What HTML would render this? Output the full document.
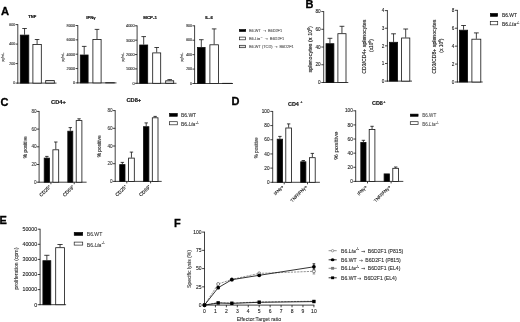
<!DOCTYPE html>
<html><head><meta charset="utf-8"><title>Figure</title>
<style>
html,body{margin:0;padding:0;background:#fff;}
body{width:520px;height:322px;overflow:hidden;}
svg{display:block;font-family:"Liberation Sans", sans-serif;}
</style></head><body>
<svg width="520" height="322" viewBox="0 0 520 322">
<defs><pattern id="hatch" width="1.3" height="1.3" patternUnits="userSpaceOnUse" patternTransform="rotate(45)"><rect width="1.3" height="1.3" fill="#fff"/><line x1="0" y1="0.65" x2="1.3" y2="0.65" stroke="#777" stroke-width="0.3"/></pattern></defs>
<rect width="520" height="322" fill="#fff"/>
<text x="0.90" y="15.20" font-size="11.2" text-anchor="start" font-weight="bold" fill="#000" stroke="#000" stroke-width="0.3">A</text>
<text x="305.40" y="8.10" font-size="11" text-anchor="start" font-weight="bold" fill="#000" stroke="#000" stroke-width="0.3">B</text>
<text x="0.50" y="105.70" font-size="11" text-anchor="start" font-weight="bold" fill="#000" stroke="#000" stroke-width="0.3">C</text>
<text x="231.60" y="105.40" font-size="11" text-anchor="start" font-weight="bold" fill="#000" stroke="#000" stroke-width="0.3">D</text>
<text x="-0.60" y="224.30" font-size="11" text-anchor="start" font-weight="bold" fill="#000" stroke="#000" stroke-width="0.3">E</text>
<text x="173.90" y="226.70" font-size="11" text-anchor="start" font-weight="bold" fill="#000" stroke="#000" stroke-width="0.3">F</text>
<line x1="17.80" y1="24.20" x2="17.80" y2="83.50" stroke="#111" stroke-width="0.8" />
<line x1="15.60" y1="24.60" x2="17.80" y2="24.60" stroke="#111" stroke-width="0.8" />
<text x="15.20" y="25.86" font-size="3.5" text-anchor="end" font-weight="normal" fill="#333" stroke="#333" stroke-width="0.12">600</text>
<line x1="15.60" y1="44.10" x2="17.80" y2="44.10" stroke="#111" stroke-width="0.8" />
<text x="15.20" y="45.36" font-size="3.5" text-anchor="end" font-weight="normal" fill="#333" stroke="#333" stroke-width="0.12">400</text>
<line x1="15.60" y1="63.60" x2="17.80" y2="63.60" stroke="#111" stroke-width="0.8" />
<text x="15.20" y="64.86" font-size="3.5" text-anchor="end" font-weight="normal" fill="#333" stroke="#333" stroke-width="0.12">200</text>
<line x1="15.60" y1="83.10" x2="17.80" y2="83.10" stroke="#111" stroke-width="0.8" />
<text x="15.20" y="84.36" font-size="3.5" text-anchor="end" font-weight="normal" fill="#333" stroke="#333" stroke-width="0.12">0</text>
<line x1="17.40" y1="83.10" x2="56.50" y2="83.10" stroke="#111" stroke-width="0.8" />
<line x1="24.55" y1="28.50" x2="24.55" y2="34.70" stroke="#111" stroke-width="0.8" />
<line x1="22.25" y1="28.50" x2="26.85" y2="28.50" stroke="#111" stroke-width="0.8" />
<rect x="20.30" y="35.10" width="8.50" height="48.00" fill="#000" stroke="#111" stroke-width="0.8" />
<line x1="37.10" y1="39.50" x2="37.10" y2="44.00" stroke="#111" stroke-width="0.8" />
<line x1="34.80" y1="39.50" x2="39.40" y2="39.50" stroke="#111" stroke-width="0.8" />
<rect x="32.90" y="44.40" width="8.40" height="38.70" fill="#fff" stroke="#111" stroke-width="0.8" />
<rect x="45.70" y="80.60" width="8.60" height="2.50" fill="url(#hatch)" stroke="#111" stroke-width="0.8" />
<text x="32.20" y="17.90" font-size="4.1" text-anchor="middle" font-weight="bold" fill="#111" stroke="#111" stroke-width="0.2">TNF</text>
<text x="4.10" y="57.20" font-size="3.2" text-anchor="middle" font-weight="normal" fill="#333" transform="rotate(-90 4.10 57.20)" stroke="#333" stroke-width="0.12">pg/mL</text>
<line x1="77.80" y1="25.10" x2="77.80" y2="83.30" stroke="#111" stroke-width="0.8" />
<line x1="75.60" y1="25.50" x2="77.80" y2="25.50" stroke="#111" stroke-width="0.8" />
<text x="75.20" y="26.90" font-size="3.9" text-anchor="end" font-weight="normal" fill="#333" stroke="#333" stroke-width="0.12">8000</text>
<line x1="75.60" y1="39.85" x2="77.80" y2="39.85" stroke="#111" stroke-width="0.8" />
<text x="75.20" y="41.25" font-size="3.9" text-anchor="end" font-weight="normal" fill="#333" stroke="#333" stroke-width="0.12">6000</text>
<line x1="75.60" y1="54.20" x2="77.80" y2="54.20" stroke="#111" stroke-width="0.8" />
<text x="75.20" y="55.60" font-size="3.9" text-anchor="end" font-weight="normal" fill="#333" stroke="#333" stroke-width="0.12">4000</text>
<line x1="75.60" y1="68.55" x2="77.80" y2="68.55" stroke="#111" stroke-width="0.8" />
<text x="75.20" y="69.95" font-size="3.9" text-anchor="end" font-weight="normal" fill="#333" stroke="#333" stroke-width="0.12">2000</text>
<line x1="75.60" y1="82.90" x2="77.80" y2="82.90" stroke="#111" stroke-width="0.8" />
<text x="75.20" y="84.30" font-size="3.9" text-anchor="end" font-weight="normal" fill="#333" stroke="#333" stroke-width="0.12">0</text>
<line x1="77.40" y1="82.90" x2="116.50" y2="82.90" stroke="#111" stroke-width="0.8" />
<line x1="84.20" y1="46.40" x2="84.20" y2="54.60" stroke="#111" stroke-width="0.8" />
<line x1="81.90" y1="46.40" x2="86.50" y2="46.40" stroke="#111" stroke-width="0.8" />
<rect x="80.30" y="55.00" width="7.80" height="27.90" fill="#000" stroke="#111" stroke-width="0.8" />
<line x1="97.00" y1="29.40" x2="97.00" y2="39.10" stroke="#111" stroke-width="0.8" />
<line x1="94.70" y1="29.40" x2="99.30" y2="29.40" stroke="#111" stroke-width="0.8" />
<rect x="92.90" y="39.50" width="8.20" height="43.40" fill="#fff" stroke="#111" stroke-width="0.8" />
<rect x="105.70" y="82.70" width="8.60" height="0.20" fill="url(#hatch)" stroke="#111" stroke-width="0.8" />
<text x="91.00" y="18.80" font-size="4.3" text-anchor="middle" font-weight="bold" fill="#111" stroke="#111" stroke-width="0.2">IFNγ</text>
<text x="64.00" y="57.20" font-size="3.2" text-anchor="middle" font-weight="normal" fill="#333" transform="rotate(-90 64.00 57.20)" stroke="#333" stroke-width="0.12">pg/mL</text>
<line x1="137.10" y1="25.40" x2="137.10" y2="83.70" stroke="#111" stroke-width="0.8" />
<line x1="134.90" y1="25.80" x2="137.10" y2="25.80" stroke="#111" stroke-width="0.8" />
<text x="134.50" y="27.17" font-size="3.8" text-anchor="end" font-weight="normal" fill="#333" stroke="#333" stroke-width="0.12">4000</text>
<line x1="134.90" y1="40.17" x2="137.10" y2="40.17" stroke="#111" stroke-width="0.8" />
<text x="134.50" y="41.54" font-size="3.8" text-anchor="end" font-weight="normal" fill="#333" stroke="#333" stroke-width="0.12">3000</text>
<line x1="134.90" y1="54.55" x2="137.10" y2="54.55" stroke="#111" stroke-width="0.8" />
<text x="134.50" y="55.92" font-size="3.8" text-anchor="end" font-weight="normal" fill="#333" stroke="#333" stroke-width="0.12">2000</text>
<line x1="134.90" y1="68.92" x2="137.10" y2="68.92" stroke="#111" stroke-width="0.8" />
<text x="134.50" y="70.29" font-size="3.8" text-anchor="end" font-weight="normal" fill="#333" stroke="#333" stroke-width="0.12">1000</text>
<line x1="134.90" y1="83.30" x2="137.10" y2="83.30" stroke="#111" stroke-width="0.8" />
<text x="134.50" y="84.67" font-size="3.8" text-anchor="end" font-weight="normal" fill="#333" stroke="#333" stroke-width="0.12">0</text>
<line x1="136.70" y1="83.30" x2="176.50" y2="83.30" stroke="#111" stroke-width="0.8" />
<line x1="143.70" y1="36.60" x2="143.70" y2="44.60" stroke="#111" stroke-width="0.8" />
<line x1="141.40" y1="36.60" x2="146.00" y2="36.60" stroke="#111" stroke-width="0.8" />
<rect x="139.70" y="45.00" width="8.00" height="38.30" fill="#000" stroke="#111" stroke-width="0.8" />
<line x1="156.70" y1="47.50" x2="156.70" y2="52.50" stroke="#111" stroke-width="0.8" />
<line x1="154.40" y1="47.50" x2="159.00" y2="47.50" stroke="#111" stroke-width="0.8" />
<rect x="152.70" y="52.90" width="8.00" height="30.40" fill="#fff" stroke="#111" stroke-width="0.8" />
<line x1="169.70" y1="79.60" x2="169.70" y2="80.40" stroke="#111" stroke-width="0.8" />
<line x1="167.40" y1="79.60" x2="172.00" y2="79.60" stroke="#111" stroke-width="0.8" />
<rect x="165.70" y="80.80" width="8.00" height="2.50" fill="url(#hatch)" stroke="#111" stroke-width="0.8" />
<text x="150.10" y="18.80" font-size="4.4" text-anchor="middle" font-weight="bold" fill="#111" stroke="#111" stroke-width="0.2">MCP-1</text>
<text x="124.00" y="57.20" font-size="3.2" text-anchor="middle" font-weight="normal" fill="#333" transform="rotate(-90 124.00 57.20)" stroke="#333" stroke-width="0.12">pg/mL</text>
<line x1="194.60" y1="25.40" x2="194.60" y2="83.90" stroke="#111" stroke-width="0.8" />
<line x1="192.40" y1="25.80" x2="194.60" y2="25.80" stroke="#111" stroke-width="0.8" />
<text x="192.00" y="27.06" font-size="3.5" text-anchor="end" font-weight="normal" fill="#333" stroke="#333" stroke-width="0.12">800</text>
<line x1="192.40" y1="40.23" x2="194.60" y2="40.23" stroke="#111" stroke-width="0.8" />
<text x="192.00" y="41.48" font-size="3.5" text-anchor="end" font-weight="normal" fill="#333" stroke="#333" stroke-width="0.12">600</text>
<line x1="192.40" y1="54.65" x2="194.60" y2="54.65" stroke="#111" stroke-width="0.8" />
<text x="192.00" y="55.91" font-size="3.5" text-anchor="end" font-weight="normal" fill="#333" stroke="#333" stroke-width="0.12">400</text>
<line x1="192.40" y1="69.08" x2="194.60" y2="69.08" stroke="#111" stroke-width="0.8" />
<text x="192.00" y="70.34" font-size="3.5" text-anchor="end" font-weight="normal" fill="#333" stroke="#333" stroke-width="0.12">200</text>
<line x1="192.40" y1="83.50" x2="194.60" y2="83.50" stroke="#111" stroke-width="0.8" />
<text x="192.00" y="84.76" font-size="3.5" text-anchor="end" font-weight="normal" fill="#333" stroke="#333" stroke-width="0.12">0</text>
<line x1="194.20" y1="83.50" x2="233.00" y2="83.50" stroke="#111" stroke-width="0.8" />
<line x1="201.30" y1="39.70" x2="201.30" y2="47.10" stroke="#111" stroke-width="0.8" />
<line x1="199.00" y1="39.70" x2="203.60" y2="39.70" stroke="#111" stroke-width="0.8" />
<rect x="197.50" y="47.50" width="7.60" height="36.00" fill="#000" stroke="#111" stroke-width="0.8" />
<line x1="214.15" y1="28.90" x2="214.15" y2="44.40" stroke="#111" stroke-width="0.8" />
<line x1="211.85" y1="28.90" x2="216.45" y2="28.90" stroke="#111" stroke-width="0.8" />
<rect x="209.90" y="44.80" width="8.50" height="38.70" fill="#fff" stroke="#111" stroke-width="0.8" />
<rect x="222.60" y="83.30" width="9.10" height="0.20" fill="url(#hatch)" stroke="#111" stroke-width="0.8" />
<text x="209.00" y="18.80" font-size="4.3" text-anchor="middle" font-weight="bold" fill="#111" stroke="#111" stroke-width="0.2">IL-6</text>
<text x="183.30" y="57.20" font-size="3.2" text-anchor="middle" font-weight="normal" fill="#333" transform="rotate(-90 183.30 57.20)" stroke="#333" stroke-width="0.12">pg/mL</text>
<rect x="239.30" y="29.50" width="6.40" height="2.00" fill="#000" stroke="#000" stroke-width="0.6" />
<rect x="239.40" y="37.10" width="6.20" height="2.70" fill="#fff" stroke="#222" stroke-width="0.7" />
<rect x="239.40" y="45.30" width="6.20" height="2.40" fill="url(#hatch)" stroke="#222" stroke-width="0.7" />
<text x="249.00" y="31.70" font-size="3.9" text-anchor="start" font-weight="normal" fill="#555" stroke="#555" stroke-width="0.1">B6.WT<tspan dx="2.00" font-family="DejaVu Sans, sans-serif" font-size="3.59">→</tspan><tspan dx="2.00">B6D2F1</tspan></text>
<text x="249.00" y="39.80" font-size="3.9" text-anchor="start" font-weight="normal" fill="#555" stroke="#555" stroke-width="0.1">B6.<tspan font-style="italic">Lta</tspan><tspan font-size="2.4" dy="-1.6" dx="0.3">-/-</tspan><tspan dy="1.6"><tspan dx="2.00" font-family="DejaVu Sans, sans-serif" font-size="3.59">→</tspan><tspan dx="2.00">B6D2F1</tspan></tspan></text>
<text x="249.00" y="47.90" font-size="3.9" text-anchor="start" font-weight="normal" fill="#555" stroke="#555" stroke-width="0.1">B6.WT (TCD)<tspan dx="2.00" font-family="DejaVu Sans, sans-serif" font-size="3.59">→</tspan><tspan dx="2.00">B6D2F1</tspan></text>
<line x1="323.70" y1="11.15" x2="323.70" y2="82.90" stroke="#111" stroke-width="0.8" />
<line x1="321.30" y1="11.55" x2="323.70" y2="11.55" stroke="#111" stroke-width="0.8" />
<text x="320.70" y="13.24" font-size="4.7" text-anchor="end" font-weight="normal" fill="#222" stroke="#222" stroke-width="0.1">80</text>
<line x1="321.30" y1="29.29" x2="323.70" y2="29.29" stroke="#111" stroke-width="0.8" />
<text x="320.70" y="30.98" font-size="4.7" text-anchor="end" font-weight="normal" fill="#222" stroke="#222" stroke-width="0.1">60</text>
<line x1="321.30" y1="47.03" x2="323.70" y2="47.03" stroke="#111" stroke-width="0.8" />
<text x="320.70" y="48.72" font-size="4.7" text-anchor="end" font-weight="normal" fill="#222" stroke="#222" stroke-width="0.1">40</text>
<line x1="321.30" y1="64.76" x2="323.70" y2="64.76" stroke="#111" stroke-width="0.8" />
<text x="320.70" y="66.45" font-size="4.7" text-anchor="end" font-weight="normal" fill="#222" stroke="#222" stroke-width="0.1">20</text>
<line x1="321.30" y1="82.50" x2="323.70" y2="82.50" stroke="#111" stroke-width="0.8" />
<text x="320.70" y="84.19" font-size="4.7" text-anchor="end" font-weight="normal" fill="#222" stroke="#222" stroke-width="0.1">0</text>
<line x1="323.30" y1="82.50" x2="348.30" y2="82.50" stroke="#111" stroke-width="0.8" />
<line x1="329.95" y1="38.30" x2="329.95" y2="43.30" stroke="#111" stroke-width="0.8" />
<line x1="327.55" y1="38.30" x2="332.35" y2="38.30" stroke="#111" stroke-width="0.8" />
<rect x="326.00" y="43.70" width="7.90" height="38.80" fill="#000" stroke="#111" stroke-width="0.8" />
<line x1="341.95" y1="26.30" x2="341.95" y2="33.30" stroke="#111" stroke-width="0.8" />
<line x1="339.55" y1="26.30" x2="344.35" y2="26.30" stroke="#111" stroke-width="0.8" />
<rect x="337.90" y="33.70" width="8.10" height="48.80" fill="#fff" stroke="#111" stroke-width="0.8" />
<text x="311.80" y="49.30" font-size="5.5" text-anchor="middle" font-weight="normal" fill="#222" transform="rotate(-90 311.80 49.30)" stroke="#222" stroke-width="0.15">splenocytes (x 10<tspan font-size="3.3" dy="-2.2">6</tspan><tspan dy="2.2">)</tspan></text>
<line x1="387.40" y1="10.20" x2="387.40" y2="81.50" stroke="#111" stroke-width="0.8" />
<line x1="385.00" y1="10.60" x2="387.40" y2="10.60" stroke="#111" stroke-width="0.8" />
<text x="384.40" y="12.29" font-size="4.7" text-anchor="end" font-weight="normal" fill="#222" stroke="#222" stroke-width="0.1">4</text>
<line x1="385.00" y1="28.23" x2="387.40" y2="28.23" stroke="#111" stroke-width="0.8" />
<text x="384.40" y="29.92" font-size="4.7" text-anchor="end" font-weight="normal" fill="#222" stroke="#222" stroke-width="0.1">3</text>
<line x1="385.00" y1="45.85" x2="387.40" y2="45.85" stroke="#111" stroke-width="0.8" />
<text x="384.40" y="47.54" font-size="4.7" text-anchor="end" font-weight="normal" fill="#222" stroke="#222" stroke-width="0.1">2</text>
<line x1="385.00" y1="63.48" x2="387.40" y2="63.48" stroke="#111" stroke-width="0.8" />
<text x="384.40" y="65.17" font-size="4.7" text-anchor="end" font-weight="normal" fill="#222" stroke="#222" stroke-width="0.1">1</text>
<line x1="385.00" y1="81.10" x2="387.40" y2="81.10" stroke="#111" stroke-width="0.8" />
<text x="384.40" y="82.79" font-size="4.7" text-anchor="end" font-weight="normal" fill="#222" stroke="#222" stroke-width="0.1">0</text>
<line x1="387.00" y1="81.10" x2="412.00" y2="81.10" stroke="#111" stroke-width="0.8" />
<line x1="393.55" y1="33.80" x2="393.55" y2="41.90" stroke="#111" stroke-width="0.8" />
<line x1="391.15" y1="33.80" x2="395.95" y2="33.80" stroke="#111" stroke-width="0.8" />
<rect x="389.50" y="42.30" width="8.10" height="38.80" fill="#000" stroke="#111" stroke-width="0.8" />
<line x1="405.70" y1="29.00" x2="405.70" y2="37.60" stroke="#111" stroke-width="0.8" />
<line x1="403.30" y1="29.00" x2="408.10" y2="29.00" stroke="#111" stroke-width="0.8" />
<rect x="401.60" y="38.00" width="8.20" height="43.10" fill="#fff" stroke="#111" stroke-width="0.8" />
<text x="365.80" y="46.80" font-size="5.2" text-anchor="middle" font-weight="normal" fill="#222" transform="rotate(-90 365.80 46.80)" stroke="#222" stroke-width="0.15">CD3/CD4+ splenocytes</text>
<text x="373.40" y="45.60" font-size="4.9" text-anchor="middle" font-weight="normal" fill="#222" transform="rotate(-90 373.40 45.60)" stroke="#222" stroke-width="0.15">(x10<tspan font-size="2.9" dy="-2.0">6</tspan><tspan dy="2.0">)</tspan></text>
<line x1="457.40" y1="9.90" x2="457.40" y2="82.40" stroke="#111" stroke-width="0.8" />
<line x1="455.00" y1="10.30" x2="457.40" y2="10.30" stroke="#111" stroke-width="0.8" />
<text x="454.40" y="11.99" font-size="4.7" text-anchor="end" font-weight="normal" fill="#222" stroke="#222" stroke-width="0.1">8</text>
<line x1="455.00" y1="28.23" x2="457.40" y2="28.23" stroke="#111" stroke-width="0.8" />
<text x="454.40" y="29.92" font-size="4.7" text-anchor="end" font-weight="normal" fill="#222" stroke="#222" stroke-width="0.1">6</text>
<line x1="455.00" y1="46.15" x2="457.40" y2="46.15" stroke="#111" stroke-width="0.8" />
<text x="454.40" y="47.84" font-size="4.7" text-anchor="end" font-weight="normal" fill="#222" stroke="#222" stroke-width="0.1">4</text>
<line x1="455.00" y1="64.08" x2="457.40" y2="64.08" stroke="#111" stroke-width="0.8" />
<text x="454.40" y="65.77" font-size="4.7" text-anchor="end" font-weight="normal" fill="#222" stroke="#222" stroke-width="0.1">2</text>
<line x1="455.00" y1="82.00" x2="457.40" y2="82.00" stroke="#111" stroke-width="0.8" />
<text x="454.40" y="83.69" font-size="4.7" text-anchor="end" font-weight="normal" fill="#222" stroke="#222" stroke-width="0.1">0</text>
<line x1="457.00" y1="82.00" x2="482.70" y2="82.00" stroke="#111" stroke-width="0.8" />
<line x1="463.55" y1="25.50" x2="463.55" y2="29.80" stroke="#111" stroke-width="0.8" />
<line x1="461.15" y1="25.50" x2="465.95" y2="25.50" stroke="#111" stroke-width="0.8" />
<rect x="459.50" y="30.20" width="8.10" height="51.80" fill="#000" stroke="#111" stroke-width="0.8" />
<line x1="476.35" y1="32.90" x2="476.35" y2="38.80" stroke="#111" stroke-width="0.8" />
<line x1="473.95" y1="32.90" x2="478.75" y2="32.90" stroke="#111" stroke-width="0.8" />
<rect x="471.90" y="39.20" width="8.90" height="42.80" fill="#fff" stroke="#111" stroke-width="0.8" />
<text x="435.90" y="46.80" font-size="5.2" text-anchor="middle" font-weight="normal" fill="#222" transform="rotate(-90 435.90 46.80)" stroke="#222" stroke-width="0.15">CD3/CD8+ splenocytes</text>
<text x="442.70" y="45.60" font-size="4.9" text-anchor="middle" font-weight="normal" fill="#222" transform="rotate(-90 442.70 45.60)" stroke="#222" stroke-width="0.15">(x 10<tspan font-size="2.9" dy="-2.0">6</tspan><tspan dy="2.0">)</tspan></text>
<rect x="490.30" y="13.40" width="7.40" height="3.00" fill="#000" stroke="#000" stroke-width="0.6" />
<rect x="490.30" y="21.40" width="7.40" height="3.40" fill="#fff" stroke="#222" stroke-width="0.7" />
<text x="502.00" y="16.60" font-size="4.9" text-anchor="start" font-weight="normal" fill="#333" stroke="#333" stroke-width="0.15">B6.WT</text>
<text x="502.00" y="26.00" font-size="4.9" text-anchor="start" font-weight="normal" fill="#333" stroke="#333" stroke-width="0.15">B6.<tspan font-style="italic">Lta</tspan><tspan font-size="3.0" dy="-2.1" dx="0.3">-/-</tspan></text>
<line x1="39.10" y1="111.00" x2="39.10" y2="182.60" stroke="#111" stroke-width="0.8" />
<line x1="36.70" y1="111.40" x2="39.10" y2="111.40" stroke="#111" stroke-width="0.8" />
<text x="36.60" y="113.09" font-size="4.7" text-anchor="end" font-weight="normal" fill="#333" stroke="#333" stroke-width="0.08">80</text>
<line x1="36.70" y1="129.10" x2="39.10" y2="129.10" stroke="#111" stroke-width="0.8" />
<text x="36.60" y="130.79" font-size="4.7" text-anchor="end" font-weight="normal" fill="#333" stroke="#333" stroke-width="0.08">60</text>
<line x1="36.70" y1="146.80" x2="39.10" y2="146.80" stroke="#111" stroke-width="0.8" />
<text x="36.60" y="148.49" font-size="4.7" text-anchor="end" font-weight="normal" fill="#333" stroke="#333" stroke-width="0.08">40</text>
<line x1="36.70" y1="164.50" x2="39.10" y2="164.50" stroke="#111" stroke-width="0.8" />
<text x="36.60" y="166.19" font-size="4.7" text-anchor="end" font-weight="normal" fill="#333" stroke="#333" stroke-width="0.08">20</text>
<line x1="36.70" y1="182.20" x2="39.10" y2="182.20" stroke="#111" stroke-width="0.8" />
<text x="36.60" y="183.89" font-size="4.7" text-anchor="end" font-weight="normal" fill="#333" stroke="#333" stroke-width="0.08">0</text>
<line x1="38.70" y1="182.20" x2="86.60" y2="182.20" stroke="#111" stroke-width="0.8" />
<line x1="50.90" y1="182.20" x2="50.90" y2="184.20" stroke="#111" stroke-width="0.8" />
<line x1="74.20" y1="182.20" x2="74.20" y2="184.20" stroke="#111" stroke-width="0.8" />
<line x1="46.85" y1="156.40" x2="46.85" y2="157.70" stroke="#111" stroke-width="0.8" />
<line x1="45.15" y1="156.40" x2="48.55" y2="156.40" stroke="#111" stroke-width="0.8" />
<rect x="44.20" y="158.10" width="5.30" height="24.10" fill="#000" stroke="#111" stroke-width="0.8" />
<line x1="55.80" y1="142.00" x2="55.80" y2="149.40" stroke="#111" stroke-width="0.8" />
<line x1="54.10" y1="142.00" x2="57.50" y2="142.00" stroke="#111" stroke-width="0.8" />
<rect x="52.90" y="149.80" width="5.80" height="32.40" fill="#fff" stroke="#111" stroke-width="0.8" />
<line x1="70.30" y1="127.60" x2="70.30" y2="130.80" stroke="#111" stroke-width="0.8" />
<line x1="68.60" y1="127.60" x2="72.00" y2="127.60" stroke="#111" stroke-width="0.8" />
<rect x="67.80" y="131.20" width="5.00" height="51.00" fill="#000" stroke="#111" stroke-width="0.8" />
<line x1="79.05" y1="118.80" x2="79.05" y2="120.20" stroke="#111" stroke-width="0.8" />
<line x1="77.35" y1="118.80" x2="80.75" y2="118.80" stroke="#111" stroke-width="0.8" />
<rect x="76.20" y="120.60" width="5.70" height="61.60" fill="#fff" stroke="#111" stroke-width="0.8" />
<text x="58.40" y="103.80" font-size="5.7" text-anchor="middle" font-weight="bold" fill="#111" stroke="#111" stroke-width="0.18">CD4+</text>
<text x="27.00" y="147.20" font-size="4.8" text-anchor="middle" font-weight="normal" fill="#222" transform="rotate(-90 27.00 147.20)" stroke="#222" stroke-width="0.1">% positive</text>
<text x="51.30" y="187.10" font-size="4.8" text-anchor="end" font-weight="normal" fill="#222" transform="rotate(-45 51.30 187.10)" stroke="#222" stroke-width="0.15">CD25<tspan font-size="3.1" dy="-1.7">+</tspan></text>
<text x="74.60" y="187.10" font-size="4.8" text-anchor="end" font-weight="normal" fill="#222" transform="rotate(-45 74.60 187.10)" stroke="#222" stroke-width="0.15">CD69<tspan font-size="3.1" dy="-1.7">+</tspan></text>
<line x1="115.20" y1="110.20" x2="115.20" y2="181.80" stroke="#111" stroke-width="0.8" />
<line x1="112.80" y1="110.60" x2="115.20" y2="110.60" stroke="#111" stroke-width="0.8" />
<text x="112.70" y="112.29" font-size="4.7" text-anchor="end" font-weight="normal" fill="#333" stroke="#333" stroke-width="0.08">80</text>
<line x1="112.80" y1="128.30" x2="115.20" y2="128.30" stroke="#111" stroke-width="0.8" />
<text x="112.70" y="129.99" font-size="4.7" text-anchor="end" font-weight="normal" fill="#333" stroke="#333" stroke-width="0.08">60</text>
<line x1="112.80" y1="146.00" x2="115.20" y2="146.00" stroke="#111" stroke-width="0.8" />
<text x="112.70" y="147.69" font-size="4.7" text-anchor="end" font-weight="normal" fill="#333" stroke="#333" stroke-width="0.08">40</text>
<line x1="112.80" y1="163.70" x2="115.20" y2="163.70" stroke="#111" stroke-width="0.8" />
<text x="112.70" y="165.39" font-size="4.7" text-anchor="end" font-weight="normal" fill="#333" stroke="#333" stroke-width="0.08">20</text>
<line x1="112.80" y1="181.40" x2="115.20" y2="181.40" stroke="#111" stroke-width="0.8" />
<text x="112.70" y="183.09" font-size="4.7" text-anchor="end" font-weight="normal" fill="#333" stroke="#333" stroke-width="0.08">0</text>
<line x1="114.80" y1="181.40" x2="161.70" y2="181.40" stroke="#111" stroke-width="0.8" />
<line x1="126.80" y1="181.40" x2="126.80" y2="183.40" stroke="#111" stroke-width="0.8" />
<line x1="150.60" y1="181.40" x2="150.60" y2="183.40" stroke="#111" stroke-width="0.8" />
<line x1="122.35" y1="162.40" x2="122.35" y2="164.20" stroke="#111" stroke-width="0.8" />
<line x1="120.65" y1="162.40" x2="124.05" y2="162.40" stroke="#111" stroke-width="0.8" />
<rect x="119.70" y="164.60" width="5.30" height="16.80" fill="#000" stroke="#111" stroke-width="0.8" />
<line x1="131.45" y1="152.10" x2="131.45" y2="157.70" stroke="#111" stroke-width="0.8" />
<line x1="129.75" y1="152.10" x2="133.15" y2="152.10" stroke="#111" stroke-width="0.8" />
<rect x="128.60" y="158.10" width="5.70" height="23.30" fill="#fff" stroke="#111" stroke-width="0.8" />
<line x1="146.20" y1="122.90" x2="146.20" y2="126.30" stroke="#111" stroke-width="0.8" />
<line x1="144.50" y1="122.90" x2="147.90" y2="122.90" stroke="#111" stroke-width="0.8" />
<rect x="143.50" y="126.70" width="5.40" height="54.70" fill="#000" stroke="#111" stroke-width="0.8" />
<line x1="155.15" y1="116.40" x2="155.15" y2="117.40" stroke="#111" stroke-width="0.8" />
<line x1="153.45" y1="116.40" x2="156.85" y2="116.40" stroke="#111" stroke-width="0.8" />
<rect x="152.30" y="117.80" width="5.70" height="63.60" fill="#fff" stroke="#111" stroke-width="0.8" />
<text x="133.80" y="102.10" font-size="5.7" text-anchor="middle" font-weight="bold" fill="#111" stroke="#111" stroke-width="0.18">CD8+</text>
<text x="101.50" y="146.30" font-size="4.8" text-anchor="middle" font-weight="normal" fill="#222" transform="rotate(-90 101.50 146.30)" stroke="#222" stroke-width="0.1">% positive</text>
<text x="127.30" y="186.90" font-size="4.8" text-anchor="end" font-weight="normal" fill="#222" transform="rotate(-45 127.30 186.90)" stroke="#222" stroke-width="0.15">CD25<tspan font-size="3.1" dy="-1.7">+</tspan></text>
<text x="151.00" y="186.90" font-size="4.8" text-anchor="end" font-weight="normal" fill="#222" transform="rotate(-45 151.00 186.90)" stroke="#222" stroke-width="0.15">CD69<tspan font-size="3.1" dy="-1.7">+</tspan></text>
<rect x="169.50" y="113.40" width="7.80" height="2.90" fill="#000" stroke="#000" stroke-width="0.6" />
<rect x="169.50" y="121.70" width="7.80" height="3.10" fill="#fff" stroke="#222" stroke-width="0.7" />
<text x="180.90" y="116.60" font-size="5.0" text-anchor="start" font-weight="normal" fill="#444" stroke="#444" stroke-width="0.15">B6.WT</text>
<text x="180.90" y="126.00" font-size="5.0" text-anchor="start" font-weight="normal" fill="#444" stroke="#444" stroke-width="0.15">B6.<tspan font-style="italic">Lta</tspan><tspan font-size="3.1" dy="-2.1" dx="0.3">-/-</tspan></text>
<line x1="272.70" y1="111.00" x2="272.70" y2="182.70" stroke="#111" stroke-width="0.8" />
<line x1="270.30" y1="111.40" x2="272.70" y2="111.40" stroke="#111" stroke-width="0.8" />
<text x="269.50" y="113.09" font-size="4.7" text-anchor="end" font-weight="normal" fill="#222" stroke="#222" stroke-width="0.1">100</text>
<line x1="270.30" y1="125.58" x2="272.70" y2="125.58" stroke="#111" stroke-width="0.8" />
<text x="269.50" y="127.27" font-size="4.7" text-anchor="end" font-weight="normal" fill="#222" stroke="#222" stroke-width="0.1">80</text>
<line x1="270.30" y1="139.76" x2="272.70" y2="139.76" stroke="#111" stroke-width="0.8" />
<text x="269.50" y="141.45" font-size="4.7" text-anchor="end" font-weight="normal" fill="#222" stroke="#222" stroke-width="0.1">60</text>
<line x1="270.30" y1="153.94" x2="272.70" y2="153.94" stroke="#111" stroke-width="0.8" />
<text x="269.50" y="155.63" font-size="4.7" text-anchor="end" font-weight="normal" fill="#222" stroke="#222" stroke-width="0.1">40</text>
<line x1="270.30" y1="168.12" x2="272.70" y2="168.12" stroke="#111" stroke-width="0.8" />
<text x="269.50" y="169.81" font-size="4.7" text-anchor="end" font-weight="normal" fill="#222" stroke="#222" stroke-width="0.1">20</text>
<line x1="270.30" y1="182.30" x2="272.70" y2="182.30" stroke="#111" stroke-width="0.8" />
<text x="269.50" y="183.99" font-size="4.7" text-anchor="end" font-weight="normal" fill="#222" stroke="#222" stroke-width="0.1">0</text>
<line x1="272.30" y1="182.30" x2="319.90" y2="182.30" stroke="#111" stroke-width="0.8" />
<line x1="284.20" y1="182.30" x2="284.20" y2="184.30" stroke="#111" stroke-width="0.8" />
<line x1="307.50" y1="182.30" x2="307.50" y2="184.30" stroke="#111" stroke-width="0.8" />
<line x1="279.90" y1="136.40" x2="279.90" y2="138.80" stroke="#111" stroke-width="0.8" />
<line x1="278.20" y1="136.40" x2="281.60" y2="136.40" stroke="#111" stroke-width="0.8" />
<rect x="277.20" y="139.20" width="5.40" height="43.10" fill="#000" stroke="#111" stroke-width="0.8" />
<line x1="288.65" y1="123.90" x2="288.65" y2="127.60" stroke="#111" stroke-width="0.8" />
<line x1="286.95" y1="123.90" x2="290.35" y2="123.90" stroke="#111" stroke-width="0.8" />
<rect x="285.80" y="128.00" width="5.70" height="54.30" fill="#fff" stroke="#111" stroke-width="0.8" />
<line x1="303.30" y1="160.50" x2="303.30" y2="161.40" stroke="#111" stroke-width="0.8" />
<line x1="301.60" y1="160.50" x2="305.00" y2="160.50" stroke="#111" stroke-width="0.8" />
<rect x="300.70" y="161.80" width="5.20" height="20.50" fill="#000" stroke="#111" stroke-width="0.8" />
<line x1="312.35" y1="153.40" x2="312.35" y2="157.30" stroke="#111" stroke-width="0.8" />
<line x1="310.65" y1="153.40" x2="314.05" y2="153.40" stroke="#111" stroke-width="0.8" />
<rect x="309.50" y="157.70" width="5.70" height="24.60" fill="#fff" stroke="#111" stroke-width="0.8" />
<text x="288.00" y="105.80" font-size="5.45" text-anchor="start" font-weight="bold" fill="#111" stroke="#111" stroke-width="0.15">CD4<tspan font-size="3.8" dy="-2.6" dx="1.3">+</tspan></text>
<text x="258.20" y="147.80" font-size="4.6" text-anchor="middle" font-weight="normal" fill="#222" transform="rotate(-90 258.20 147.80)" stroke="#222" stroke-width="0.1">% positive</text>
<text x="284.00" y="187.20" font-size="4.4" text-anchor="end" font-weight="normal" fill="#222" transform="rotate(-45 284.00 187.20)" stroke="#222" stroke-width="0.15">IFNγ+</text>
<text x="307.60" y="187.20" font-size="4.4" text-anchor="end" font-weight="normal" fill="#222" transform="rotate(-45 307.60 187.20)" stroke="#222" stroke-width="0.15">TNF/IFNγ+</text>
<line x1="355.70" y1="110.40" x2="355.70" y2="181.80" stroke="#111" stroke-width="0.8" />
<line x1="353.30" y1="110.80" x2="355.70" y2="110.80" stroke="#111" stroke-width="0.8" />
<text x="352.80" y="112.49" font-size="4.7" text-anchor="end" font-weight="normal" fill="#222" stroke="#222" stroke-width="0.1">100</text>
<line x1="353.30" y1="124.92" x2="355.70" y2="124.92" stroke="#111" stroke-width="0.8" />
<text x="352.80" y="126.61" font-size="4.7" text-anchor="end" font-weight="normal" fill="#222" stroke="#222" stroke-width="0.1">80</text>
<line x1="353.30" y1="139.04" x2="355.70" y2="139.04" stroke="#111" stroke-width="0.8" />
<text x="352.80" y="140.73" font-size="4.7" text-anchor="end" font-weight="normal" fill="#222" stroke="#222" stroke-width="0.1">60</text>
<line x1="353.30" y1="153.16" x2="355.70" y2="153.16" stroke="#111" stroke-width="0.8" />
<text x="352.80" y="154.85" font-size="4.7" text-anchor="end" font-weight="normal" fill="#222" stroke="#222" stroke-width="0.1">40</text>
<line x1="353.30" y1="167.28" x2="355.70" y2="167.28" stroke="#111" stroke-width="0.8" />
<text x="352.80" y="168.97" font-size="4.7" text-anchor="end" font-weight="normal" fill="#222" stroke="#222" stroke-width="0.1">20</text>
<line x1="353.30" y1="181.40" x2="355.70" y2="181.40" stroke="#111" stroke-width="0.8" />
<text x="352.80" y="183.09" font-size="4.7" text-anchor="end" font-weight="normal" fill="#222" stroke="#222" stroke-width="0.1">0</text>
<line x1="355.30" y1="181.40" x2="403.30" y2="181.40" stroke="#111" stroke-width="0.8" />
<line x1="367.50" y1="181.40" x2="367.50" y2="183.40" stroke="#111" stroke-width="0.8" />
<line x1="391.10" y1="181.40" x2="391.10" y2="183.40" stroke="#111" stroke-width="0.8" />
<line x1="363.40" y1="140.30" x2="363.40" y2="142.00" stroke="#111" stroke-width="0.8" />
<line x1="361.70" y1="140.30" x2="365.10" y2="140.30" stroke="#111" stroke-width="0.8" />
<rect x="360.80" y="142.40" width="5.20" height="39.00" fill="#000" stroke="#111" stroke-width="0.8" />
<line x1="372.05" y1="126.30" x2="372.05" y2="129.10" stroke="#111" stroke-width="0.8" />
<line x1="370.35" y1="126.30" x2="373.75" y2="126.30" stroke="#111" stroke-width="0.8" />
<rect x="369.20" y="129.50" width="5.70" height="51.90" fill="#fff" stroke="#111" stroke-width="0.8" />
<rect x="384.10" y="173.90" width="5.30" height="7.50" fill="#000" stroke="#111" stroke-width="0.8" />
<line x1="395.70" y1="167.00" x2="395.70" y2="167.90" stroke="#111" stroke-width="0.8" />
<line x1="394.00" y1="167.00" x2="397.40" y2="167.00" stroke="#111" stroke-width="0.8" />
<rect x="392.80" y="168.30" width="5.80" height="13.10" fill="#fff" stroke="#111" stroke-width="0.8" />
<text x="372.00" y="105.40" font-size="5.45" text-anchor="start" font-weight="bold" fill="#111" stroke="#111" stroke-width="0.15">CD8<tspan font-size="3.8" dy="-2.6" dx="0.3">+</tspan></text>
<text x="337.70" y="145.70" font-size="6.2" text-anchor="middle" font-weight="normal" fill="#222" transform="rotate(-90 337.70 145.70)" stroke="#222" stroke-width="0.1">% positive</text>
<text x="367.30" y="187.30" font-size="4.4" text-anchor="end" font-weight="normal" fill="#222" transform="rotate(-45 367.30 187.30)" stroke="#222" stroke-width="0.15">IFNγ+</text>
<text x="391.00" y="187.30" font-size="4.4" text-anchor="end" font-weight="normal" fill="#222" transform="rotate(-45 391.00 187.30)" stroke="#222" stroke-width="0.15">TNF/IFNγ+</text>
<rect x="410.30" y="114.10" width="7.80" height="2.20" fill="#000" stroke="#000" stroke-width="0.6" />
<rect x="410.30" y="121.70" width="7.80" height="2.70" fill="#fff" stroke="#222" stroke-width="0.7" />
<text x="422.20" y="116.60" font-size="4.6" text-anchor="start" font-weight="normal" fill="#555" stroke="#555" stroke-width="0.1">B6.WT</text>
<text x="422.20" y="126.20" font-size="4.6" text-anchor="start" font-weight="normal" fill="#555" stroke="#555" stroke-width="0.1">B6.<tspan font-style="italic">Lta</tspan><tspan font-size="2.9" dy="-1.9" dx="0.3">-/-</tspan></text>
<line x1="40.10" y1="228.80" x2="40.10" y2="305.10" stroke="#111" stroke-width="0.8" />
<line x1="37.70" y1="229.20" x2="40.10" y2="229.20" stroke="#111" stroke-width="0.8" />
<text x="37.10" y="231.09" font-size="5.25" text-anchor="end" font-weight="normal" fill="#222" stroke="#222" stroke-width="0.1">50000</text>
<line x1="37.70" y1="244.30" x2="40.10" y2="244.30" stroke="#111" stroke-width="0.8" />
<text x="37.10" y="246.19" font-size="5.25" text-anchor="end" font-weight="normal" fill="#222" stroke="#222" stroke-width="0.1">40000</text>
<line x1="37.70" y1="259.40" x2="40.10" y2="259.40" stroke="#111" stroke-width="0.8" />
<text x="37.10" y="261.29" font-size="5.25" text-anchor="end" font-weight="normal" fill="#222" stroke="#222" stroke-width="0.1">30000</text>
<line x1="37.70" y1="274.50" x2="40.10" y2="274.50" stroke="#111" stroke-width="0.8" />
<text x="37.10" y="276.39" font-size="5.25" text-anchor="end" font-weight="normal" fill="#222" stroke="#222" stroke-width="0.1">20000</text>
<line x1="37.70" y1="289.60" x2="40.10" y2="289.60" stroke="#111" stroke-width="0.8" />
<text x="37.10" y="291.49" font-size="5.25" text-anchor="end" font-weight="normal" fill="#222" stroke="#222" stroke-width="0.1">10000</text>
<line x1="37.70" y1="304.70" x2="40.10" y2="304.70" stroke="#111" stroke-width="0.8" />
<text x="37.10" y="306.59" font-size="5.25" text-anchor="end" font-weight="normal" fill="#222" stroke="#222" stroke-width="0.1">0</text>
<line x1="39.70" y1="304.70" x2="66.10" y2="304.70" stroke="#111" stroke-width="0.8" />
<line x1="46.85" y1="255.30" x2="46.85" y2="260.30" stroke="#111" stroke-width="0.8" />
<line x1="44.25" y1="255.30" x2="49.45" y2="255.30" stroke="#111" stroke-width="0.8" />
<rect x="42.90" y="260.70" width="7.90" height="44.00" fill="#000" stroke="#111" stroke-width="0.8" />
<line x1="60.05" y1="244.50" x2="60.05" y2="247.30" stroke="#111" stroke-width="0.8" />
<line x1="57.45" y1="244.50" x2="62.65" y2="244.50" stroke="#111" stroke-width="0.8" />
<rect x="55.70" y="247.70" width="8.70" height="57.00" fill="#fff" stroke="#111" stroke-width="0.8" />
<text x="18.20" y="268.50" font-size="5.2" text-anchor="middle" font-weight="normal" fill="#333" transform="rotate(-90 18.20 268.50)" stroke="#333" stroke-width="0.1">proliferation (cpm)</text>
<rect x="74.20" y="232.40" width="8.50" height="3.00" fill="#000" stroke="#000" stroke-width="0.6" />
<rect x="74.20" y="242.10" width="8.50" height="3.00" fill="#fff" stroke="#222" stroke-width="0.7" />
<text x="86.80" y="236.00" font-size="5.05" text-anchor="start" font-weight="normal" fill="#444" stroke="#444" stroke-width="0.12">B6.WT</text>
<text x="86.80" y="246.50" font-size="5.05" text-anchor="start" font-weight="normal" fill="#444" stroke="#444" stroke-width="0.12">B6.<tspan font-style="italic">Lta</tspan><tspan font-size="3.1" dy="-2.1" dx="0.3">-/-</tspan></text>
<line x1="204.50" y1="231.70" x2="204.50" y2="305.50" stroke="#111" stroke-width="0.8" />
<line x1="202.10" y1="232.10" x2="204.50" y2="232.10" stroke="#111" stroke-width="0.8" />
<text x="201.50" y="233.90" font-size="5.0" text-anchor="end" font-weight="normal" fill="#222" stroke="#222" stroke-width="0.1">100</text>
<line x1="202.10" y1="250.35" x2="204.50" y2="250.35" stroke="#111" stroke-width="0.8" />
<text x="201.50" y="252.15" font-size="5.0" text-anchor="end" font-weight="normal" fill="#222" stroke="#222" stroke-width="0.1">75</text>
<line x1="202.10" y1="268.60" x2="204.50" y2="268.60" stroke="#111" stroke-width="0.8" />
<text x="201.50" y="270.40" font-size="5.0" text-anchor="end" font-weight="normal" fill="#222" stroke="#222" stroke-width="0.1">50</text>
<line x1="202.10" y1="286.85" x2="204.50" y2="286.85" stroke="#111" stroke-width="0.8" />
<text x="201.50" y="288.65" font-size="5.0" text-anchor="end" font-weight="normal" fill="#222" stroke="#222" stroke-width="0.1">25</text>
<line x1="202.10" y1="305.10" x2="204.50" y2="305.10" stroke="#111" stroke-width="0.8" />
<text x="201.50" y="306.90" font-size="5.0" text-anchor="end" font-weight="normal" fill="#222" stroke="#222" stroke-width="0.1">0</text>
<line x1="204.10" y1="305.10" x2="314.30" y2="305.10" stroke="#111" stroke-width="0.8" />
<line x1="204.50" y1="305.10" x2="204.50" y2="307.30" stroke="#111" stroke-width="0.8" />
<text x="204.50" y="312.60" font-size="5.0" text-anchor="middle" font-weight="normal" fill="#222" stroke="#222" stroke-width="0.1">0</text>
<line x1="215.44" y1="305.10" x2="215.44" y2="307.30" stroke="#111" stroke-width="0.8" />
<text x="215.44" y="312.60" font-size="5.0" text-anchor="middle" font-weight="normal" fill="#222" stroke="#222" stroke-width="0.1">1</text>
<line x1="226.38" y1="305.10" x2="226.38" y2="307.30" stroke="#111" stroke-width="0.8" />
<text x="226.38" y="312.60" font-size="5.0" text-anchor="middle" font-weight="normal" fill="#222" stroke="#222" stroke-width="0.1">2</text>
<line x1="237.32" y1="305.10" x2="237.32" y2="307.30" stroke="#111" stroke-width="0.8" />
<text x="237.32" y="312.60" font-size="5.0" text-anchor="middle" font-weight="normal" fill="#222" stroke="#222" stroke-width="0.1">3</text>
<line x1="248.26" y1="305.10" x2="248.26" y2="307.30" stroke="#111" stroke-width="0.8" />
<text x="248.26" y="312.60" font-size="5.0" text-anchor="middle" font-weight="normal" fill="#222" stroke="#222" stroke-width="0.1">4</text>
<line x1="259.20" y1="305.10" x2="259.20" y2="307.30" stroke="#111" stroke-width="0.8" />
<text x="259.20" y="312.60" font-size="5.0" text-anchor="middle" font-weight="normal" fill="#222" stroke="#222" stroke-width="0.1">5</text>
<line x1="270.14" y1="305.10" x2="270.14" y2="307.30" stroke="#111" stroke-width="0.8" />
<text x="270.14" y="312.60" font-size="5.0" text-anchor="middle" font-weight="normal" fill="#222" stroke="#222" stroke-width="0.1">6</text>
<line x1="281.08" y1="305.10" x2="281.08" y2="307.30" stroke="#111" stroke-width="0.8" />
<text x="281.08" y="312.60" font-size="5.0" text-anchor="middle" font-weight="normal" fill="#222" stroke="#222" stroke-width="0.1">7</text>
<line x1="292.02" y1="305.10" x2="292.02" y2="307.30" stroke="#111" stroke-width="0.8" />
<text x="292.02" y="312.60" font-size="5.0" text-anchor="middle" font-weight="normal" fill="#222" stroke="#222" stroke-width="0.1">8</text>
<line x1="302.96" y1="305.10" x2="302.96" y2="307.30" stroke="#111" stroke-width="0.8" />
<text x="302.96" y="312.60" font-size="5.0" text-anchor="middle" font-weight="normal" fill="#222" stroke="#222" stroke-width="0.1">9</text>
<line x1="313.90" y1="305.10" x2="313.90" y2="307.30" stroke="#111" stroke-width="0.8" />
<text x="313.90" y="312.60" font-size="5.0" text-anchor="middle" font-weight="normal" fill="#222" stroke="#222" stroke-width="0.1">10</text>
<text x="258.90" y="320.60" font-size="5.1" text-anchor="middle" font-weight="normal" fill="#333" stroke="#333" stroke-width="0.1">Effector:Target ratio</text>
<text x="190.90" y="269.00" font-size="5.0" text-anchor="middle" font-weight="normal" fill="#333" transform="rotate(-90 190.90 269.00)" stroke="#333" stroke-width="0.1">Specific lysis (%)</text>
<line x1="313.90" y1="263.60" x2="313.90" y2="271.30" stroke="#777" stroke-width="0.7" />
<line x1="312.60" y1="263.60" x2="315.20" y2="263.60" stroke="#777" stroke-width="0.7" />
<line x1="313.90" y1="271.30" x2="313.90" y2="274.00" stroke="#777" stroke-width="0.7" />
<line x1="312.60" y1="274.00" x2="315.20" y2="274.00" stroke="#777" stroke-width="0.7" />
<line x1="313.90" y1="263.90" x2="313.90" y2="269.70" stroke="#111" stroke-width="0.7" />
<line x1="312.60" y1="263.90" x2="315.20" y2="263.90" stroke="#111" stroke-width="0.7" />
<line x1="312.60" y1="269.70" x2="315.20" y2="269.70" stroke="#111" stroke-width="0.7" />
<polyline points="204.50,305.10 218.18,284.00 231.85,279.40 259.20,273.40 313.90,271.30" fill="none" stroke="#777" stroke-width="0.8" stroke-dasharray="2.2 1"/>
<circle cx="204.50" cy="305.10" r="1.5" fill="#fff" stroke="#666" stroke-width="0.8"/>
<circle cx="218.18" cy="284.00" r="1.5" fill="#fff" stroke="#666" stroke-width="0.8"/>
<circle cx="231.85" cy="279.40" r="1.5" fill="#fff" stroke="#666" stroke-width="0.8"/>
<circle cx="259.20" cy="273.40" r="1.5" fill="#fff" stroke="#666" stroke-width="0.8"/>
<circle cx="313.90" cy="271.30" r="1.5" fill="#fff" stroke="#666" stroke-width="0.8"/>
<polyline points="204.50,305.10 218.18,302.60 231.85,303.00 259.20,302.00 313.90,301.20" fill="none" stroke="#777" stroke-width="0.8" stroke-dasharray="2.2 1"/>
<rect x="202.90" y="303.50" width="3.2" height="3.2" fill="#777"/>
<rect x="216.58" y="301.00" width="3.2" height="3.2" fill="#777"/>
<rect x="230.25" y="301.40" width="3.2" height="3.2" fill="#777"/>
<rect x="257.60" y="300.40" width="3.2" height="3.2" fill="#777"/>
<rect x="312.30" y="299.60" width="3.2" height="3.2" fill="#777"/>
<polyline points="204.50,305.10 218.18,303.00 231.85,303.40 259.20,302.30 313.90,301.60" fill="none" stroke="#000" stroke-width="0.8" />
<rect x="202.90" y="303.50" width="3.2" height="3.2" fill="#000"/>
<rect x="216.58" y="301.40" width="3.2" height="3.2" fill="#000"/>
<rect x="230.25" y="301.80" width="3.2" height="3.2" fill="#000"/>
<rect x="257.60" y="300.70" width="3.2" height="3.2" fill="#000"/>
<rect x="312.30" y="300.00" width="3.2" height="3.2" fill="#000"/>
<polyline points="204.50,305.10 218.18,287.70 231.85,279.70 259.20,275.30 313.90,266.80" fill="none" stroke="#000" stroke-width="0.8" />
<circle cx="204.50" cy="305.10" r="1.9" fill="#000"/>
<circle cx="218.18" cy="287.70" r="1.9" fill="#000"/>
<circle cx="231.85" cy="279.70" r="1.9" fill="#000"/>
<circle cx="259.20" cy="275.30" r="1.9" fill="#000"/>
<circle cx="313.90" cy="266.80" r="1.9" fill="#000"/>
<line x1="328.60" y1="250.70" x2="336.70" y2="250.70" stroke="#777" stroke-width="0.8" />
<circle cx="332.6" cy="250.7" r="1.2" fill="#fff" stroke="#777" stroke-width="0.7"/>
<text x="341.00" y="252.50" font-size="5.1" text-anchor="start" font-weight="normal" fill="#333" stroke="#333" stroke-width="0.12">B6.<tspan font-style="italic">Lta</tspan><tspan font-size="3.2" dy="-2.1" dx="0.3">-/-</tspan><tspan dy="2.1"><tspan dx="2.30" font-family="DejaVu Sans, sans-serif" font-size="4.69">→</tspan><tspan dx="2.50">B6D2F1 (P815)</tspan></tspan></text>
<line x1="328.60" y1="259.80" x2="336.70" y2="259.80" stroke="#000" stroke-width="0.8" />
<ellipse cx="332.6" cy="259.8" rx="1.9" ry="1.5" fill="#000"/>
<text x="341.00" y="261.60" font-size="5.1" text-anchor="start" font-weight="normal" fill="#333" stroke="#333" stroke-width="0.12">B6.WT<tspan dx="2.40" font-family="DejaVu Sans, sans-serif" font-size="4.60">→</tspan><tspan dx="2.50">B6D2F1 (P815)</tspan></text>
<line x1="328.60" y1="268.30" x2="336.70" y2="268.30" stroke="#777" stroke-width="0.8" />
<rect x="331.1" y="266.90000000000003" width="3.0" height="2.8" fill="#777"/>
<text x="341.00" y="270.10" font-size="5.1" text-anchor="start" font-weight="normal" fill="#333" stroke="#333" stroke-width="0.12">B6.<tspan font-style="italic">Lta</tspan><tspan font-size="3.2" dy="-2.1" dx="0.3">-/-</tspan><tspan dy="2.1"><tspan dx="2.30" font-family="DejaVu Sans, sans-serif" font-size="4.69">→</tspan><tspan dx="2.50">B6D2F1 (EL4)</tspan></tspan></text>
<line x1="328.60" y1="277.80" x2="336.70" y2="277.80" stroke="#000" stroke-width="0.8" />
<rect x="331.1" y="276.40000000000003" width="3.0" height="2.8" fill="#000"/>
<text x="341.00" y="279.60" font-size="5.1" text-anchor="start" font-weight="normal" fill="#333" stroke="#333" stroke-width="0.12">B6.WT<tspan dx="0.60" font-family="DejaVu Sans, sans-serif" font-size="4.60">→</tspan><tspan dx="3.00">B6D2F1 (EL4)</tspan></text>
</svg>
</body></html>
